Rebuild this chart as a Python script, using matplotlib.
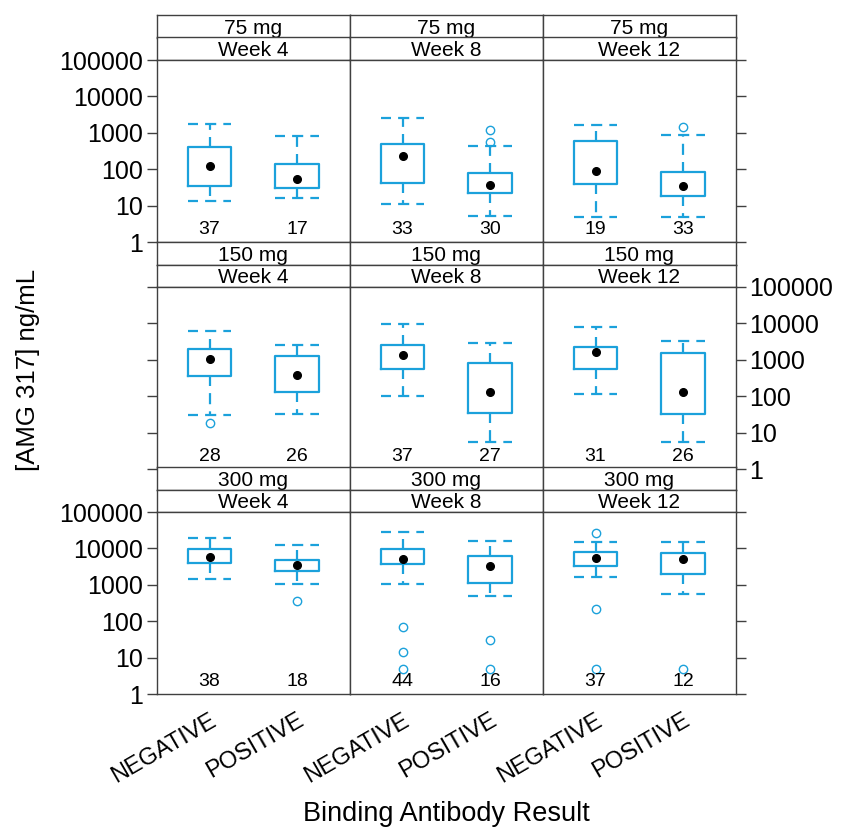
import numpy as np
import matplotlib
matplotlib.use("Agg")
import matplotlib.pyplot as plt
import matplotlib.transforms as mtransforms

plt.rcParams['font.family'] = ['Liberation Sans', 'DejaVu Sans']

doses = ["75 mg", "150 mg", "300 mg"]
weeks = ["Week 4", "Week 8", "Week 12"]
groups = ["NEGATIVE", "POSITIVE"]

# [dose][week][group]
whis_lo = [[[13, 16], [11, 5.1], [5, 5]],
           [[30, 32], [100, 5.4], [112, 5.4]],
           [[1420, 1080], [1050, 480], [1610, 550]]]
q1 = [[[35, 30], [43, 22], [38, 18.6]],
      [[350, 129], [560, 35], [570, 32]],
      [[3900, 2400], [3740, 1150], [3300, 1950]]]
med = [[[120, 53], [230, 37], [89, 35]],
       [[1070, 380], [1350, 129], [1660, 129]],
       [[5800, 3440], [5200, 3370], [5330, 5150]]]
q3 = [[[400, 139], [490, 77], [590, 85]],
      [[2040, 1290], [2570, 800], [2180, 1510]],
      [[9600, 4800], [9800, 6040], [7780, 7300]]]
whis_hi = [[[1700, 815], [2550, 445], [1690, 870]],
           [[6000, 2570], [9600, 2900], [8100, 3300]],
           [[19000, 12300], [28000, 15500], [14900, 14900]]]
fliers = [[[[], []], [[], [1200, 550]], [[], [1450]]],
          [[[18], []], [[], []], [[], []]],
          [[[], [370]], [[71, 14.4, 4.8], [31, 4.8]], [[25700, 218, 4.8], [4.8]]]]
counts = [[[37, 17], [33, 30], [19, 33]],
          [[28, 26], [37, 27], [31, 26]],
          [[38, 18], [44, 16], [37, 12]]]

yticks = [1, 10, 100, 1000, 10000, 100000]
ytick_labels = ["1", "10", "100", "1000", "10000", "100000"]

W, H = 844, 832
blue = '#1ba1db'
frame = '#404040'
dash = (0.5, (5, 3.2))

fig = plt.figure(figsize=(W / 100, H / 100), dpi=100)

col_x = [157, 350, 543]
col_w = 192.7
row_top = [60, 287, 512]
panel_h = 182
strip_h = 22.5


def px_axes(x, y, w, h):
    return fig.add_axes([x / W, 1 - (y + h) / H, w / W, h / H])


for r in range(3):
    for c in range(3):
        # two strips above each panel
        for k, label in enumerate([doses[r], weeks[c]]):
            sax = px_axes(col_x[c], row_top[r] - strip_h * (2 - k), col_w, strip_h)
            sax.set_xticks([])
            sax.set_yticks([])
            for sp in sax.spines.values():
                sp.set_color(frame)
                sp.set_linewidth(1.0)
            sax.text(0.5, 0.42, label, ha='center', va='center', fontsize=15,
                     transform=sax.transAxes)

        ax = px_axes(col_x[c], row_top[r], col_w, panel_h)
        stats = []
        for g in range(2):
            stats.append(dict(whislo=whis_lo[r][c][g], q1=q1[r][c][g], med=med[r][c][g],
                              q3=q3[r][c][g], whishi=whis_hi[r][c][g],
                              fliers=fliers[r][c][g], mean=med[r][c][g]))
        ax.bxp(stats, positions=[1, 2], widths=0.5, capwidths=0.5, showmeans=True,
               boxprops=dict(color=blue, linewidth=1.6),
               whiskerprops=dict(color=blue, linewidth=1.6, linestyle=dash),
               capprops=dict(color=blue, linewidth=1.6, linestyle=dash),
               medianprops=dict(linestyle='none'),
               meanprops=dict(marker='o', markerfacecolor='black', markeredgecolor='black',
                              markersize=5.5),
               flierprops=dict(marker='o', markerfacecolor='none', markeredgecolor=blue,
                               markersize=6, markeredgewidth=1.0))
        ax.set_yscale('log')
        ax.set_ylim(1, 100000)
        ax.set_xlim(0.4, 2.6)
        ax.minorticks_off()
        for sp in ax.spines.values():
            sp.set_color(frame)
            sp.set_linewidth(1.0)

        trans = mtransforms.blended_transform_factory(ax.transData, ax.transAxes)
        for g in range(2):
            ax.text(g + 1, 0.068, str(counts[r][c][g]), ha='center', va='center',
                    fontsize=14, transform=trans)

        ax.set_yticks(yticks)
        ax.tick_params(axis='y', which='both', direction='out', length=7, width=1,
                       color=frame, labelsize=18, pad=3,
                       left=(c == 0), right=(c == 2),
                       labelleft=(c == 0 and r != 1), labelright=(c == 2 and r == 1))
        ax.set_yticklabels(ytick_labels)

        if r == 2:
            ax.set_xticks([1, 2])
            ax.set_xticklabels(groups, rotation=30, ha='right', rotation_mode='anchor',
                               fontsize=17)
            ax.tick_params(axis='x', length=0, pad=11)
        else:
            ax.set_xticks([])

fig.text(28 / W, 1 - 370 / H, "[AMG 317] ng/mL", rotation=90, ha='center', va='center',
         fontsize=18.5)
fig.text(446 / W, 1 - 814 / H, "Binding Antibody Result", ha='center', va='center',
         fontsize=19.5)

fig.savefig("out.png", dpi=100)
